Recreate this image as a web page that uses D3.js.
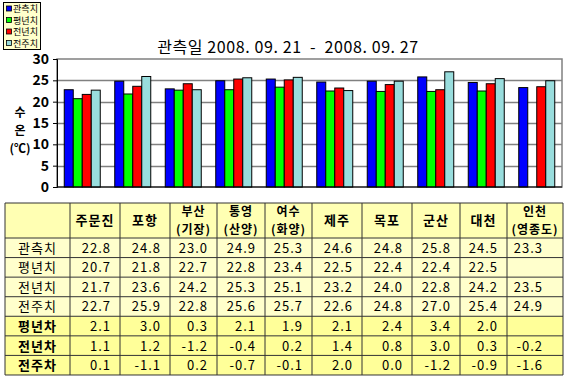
<!DOCTYPE html>
<html><head><meta charset="utf-8">
<script src="https://cdn.jsdelivr.net/npm/d3@7"></script>
<style>
body{margin:0;background:#fff;}
svg{display:block;}
text{font-family:"Noto Sans CJK KR","Noto Sans",sans-serif;}
</style></head><body>
<svg id="c" width="567" height="379"></svg>
<script>
const categories = ["주문진","포항","부산\n(기장)","통영\n(산양)","여수\n(화양)","제주","목포","군산","대천","인천\n(영종도)"];
const seriesNames = ["관측치","평년치","전년치","전주치"];
const observed = [22.8,24.8,23.0,24.9,25.3,24.6,24.8,25.8,24.5,23.3];
const normal   = [20.7,21.8,22.7,22.8,23.4,22.5,22.4,22.4,22.5,null];
const lastYear = [21.7,23.6,24.2,25.3,25.1,23.2,24.0,22.8,24.2,23.5];
const lastWeek = [22.7,25.9,22.8,25.6,25.7,22.6,24.8,27.0,25.4,24.9];
const diffNames = ["평년차","전년차","전주차"];
const diffNormal   = [2.1,3.0,0.3,2.1,1.9,2.1,2.4,3.4,2.0,null];
const diffLastYear = [1.1,1.2,-1.2,-0.4,0.2,1.4,0.8,3.0,0.3,-0.2];
const diffLastWeek = [0.1,-1.1,0.2,-0.7,-0.1,2.0,0.0,-1.2,-0.9,-1.6];
const yTicks = [0,5,10,15,20,25,30];
const title = "관측일 2008. 09. 21  -  2008. 09. 27";
const yTitle = ["수","온","(℃)"];
const colors = ["#0000ff","#00ff00","#ff0000","#99dddd"];

const svg = d3.select("#c");
svg.append("rect").attr("width",567).attr("height",379).attr("fill","#fff");

const series = [observed, normal, lastYear, lastWeek];
const L=57,R=562,T=59,B=187;
const y = d3.scaleLinear().domain([0,30]).range([B,T]);
const x0 = d3.scaleBand().domain(d3.range(categories.length)).range([L,R]).padding(0);
const x1 = d3.scaleBand().domain(d3.range(4)).range([7.25, x0.bandwidth()-7.25]).padding(0);

svg.append("rect").attr("x",L).attr("y",T).attr("width",R-L).attr("height",B-T)
  .attr("fill","#fff").attr("stroke","#808080").attr("stroke-width",1.5);
svg.append("g").selectAll("line").data(yTicks.filter(d=>d>0&&d<30)).join("line")
  .attr("x1",L).attr("x2",R).attr("y1",d=>Math.round(y(d))+0.5).attr("y2",d=>Math.round(y(d))+0.5)
  .attr("stroke","#808080").attr("stroke-width",1.5);

const yAxis = d3.axisLeft(y).tickValues(yTicks).tickSize(4).tickPadding(4);
const ga = svg.append("g").attr("transform",`translate(${L},0)`).call(yAxis);
ga.select(".domain").attr("stroke","#000").attr("stroke-width",1);
ga.selectAll(".tick line").attr("stroke","#000");
ga.selectAll(".tick text").attr("font-family","Liberation Sans, Arial, sans-serif").attr("font-weight","bold").attr("font-size",14).attr("fill","#000");

const gBars = svg.append("g");
categories.forEach((c,i)=>{
  series.forEach((s,j)=>{
    if(s[i]==null) return;
    gBars.append("rect")
      .attr("x", x0(i)+x1(j)).attr("width", x1.bandwidth())
      .attr("y", y(s[i])).attr("height", y(0)-y(s[i]))
      .attr("fill", colors[j]).attr("stroke","#000").attr("stroke-width",1);
  });
});
svg.append("line").attr("x1",L).attr("x2",R).attr("y1",B).attr("y2",B).attr("stroke","#000").attr("stroke-width",1);

const yt = svg.append("text").attr("x",20).attr("y",117).attr("font-size",12).attr("font-weight","bold")
  .attr("text-anchor","middle").attr("fill","#000");
yTitle.forEach((t,k)=>{
  yt.append("tspan").attr("x",20).attr("dy",k===0?0:18).text(t);
});

svg.append("text").attr("x",288).attr("y",53).attr("text-anchor","middle").attr("font-size",16)
  .attr("fill","#000").style("white-space","pre").style("letter-spacing","0.6px").text(title);

svg.append("rect").attr("x",3.5).attr("y",2.5).attr("width",37).attr("height",47).attr("fill","#ffffcc").attr("stroke","#000");
seriesNames.forEach((n,i)=>{
  const cy = 8.5 + i*11.5;
  svg.append("rect").attr("x",6.5).attr("y",cy-2.5).attr("width",5).attr("height",5).attr("fill",colors[i]).attr("stroke","#000").attr("stroke-width",0.8);
  svg.append("text").attr("x",13).attr("y",cy+3.5).attr("font-size",9).attr("fill","#000")
    .attr("textLength",25).attr("lengthAdjust","spacingAndGlyphs").text(n);
});

const colEdges = [5,70,120,170,217,265,312,362,412,460,507,563];
const rowEdges = [203,238];
for(let k=0;k<7;k++) rowEdges.push(238 + (k+1)*19.57);
const rows = [
  {name:seriesNames[0], vals:observed, bold:false, fill:"#ffffcc"},
  {name:seriesNames[1], vals:normal, bold:false, fill:"#ffffcc"},
  {name:seriesNames[2], vals:lastYear, bold:false, fill:"#ffffcc"},
  {name:seriesNames[3], vals:lastWeek, bold:false, fill:"#ffffcc"},
  {name:diffNames[0], vals:diffNormal, bold:true, fill:"#ffff99"},
  {name:diffNames[1], vals:diffLastYear, bold:true, fill:"#ffff99"},
  {name:diffNames[2], vals:diffLastWeek, bold:true, fill:"#ffff99"},
];
const tg = svg.append("g");
tg.append("rect").attr("x",colEdges[0]).attr("y",rowEdges[0]).attr("width",colEdges[11]-colEdges[0]).attr("height",rowEdges[1]-rowEdges[0]).attr("fill","#ffffb3");
rows.forEach((r,k)=>{
  tg.append("rect").attr("x",colEdges[0]).attr("y",rowEdges[k+1]).attr("width",colEdges[11]-colEdges[0]).attr("height",rowEdges[k+2]-rowEdges[k+1]).attr("fill",r.fill);
});
categories.forEach((c,i)=>{
  const cx = (colEdges[i+1]+colEdges[i+2])/2;
  const parts = c.split("\n");
  const multi = parts.length>1;
  const t = tg.append("text").attr("x",cx).attr("y",multi?216:225).attr("text-anchor","middle")
    .attr("font-size",multi?12:13).attr("font-weight","bold").attr("fill","#000").style("letter-spacing","1px");
  parts.forEach((p,pi)=>{
    t.append("tspan").attr("x",cx).attr("dy",pi===0?0:17.6).text(p);
  });
});
rows.forEach((r,k)=>{
  const yy = (rowEdges[k+1]+rowEdges[k+2])/2 + 5;
  tg.append("text").attr("x",(colEdges[0]+colEdges[1])/2).attr("y",yy).attr("text-anchor","middle")
    .attr("font-size",13).attr("font-weight",r.bold?"bold":"normal").attr("fill","#000").style("letter-spacing","1px").text(r.name);
  r.vals.forEach((v,i)=>{
    if(v==null) return;
    const pad = i===9 ? 20 : 9;
    tg.append("text").attr("x",colEdges[i+2]-pad).attr("y",yy).attr("text-anchor","end")
      .attr("font-size",13).attr("fill","#000").style("letter-spacing","1px").text(v.toFixed(1));
  });
});
rowEdges.forEach(yy=>{
  tg.append("line").attr("x1",colEdges[0]).attr("x2",colEdges[11]).attr("y1",yy).attr("y2",yy).attr("stroke","#333").attr("stroke-width",1);
});
colEdges.forEach(xx=>{
  tg.append("line").attr("x1",xx).attr("x2",xx).attr("y1",rowEdges[0]).attr("y2",rowEdges[rowEdges.length-1]).attr("stroke","#333").attr("stroke-width",1);
});
</script></body></html>
